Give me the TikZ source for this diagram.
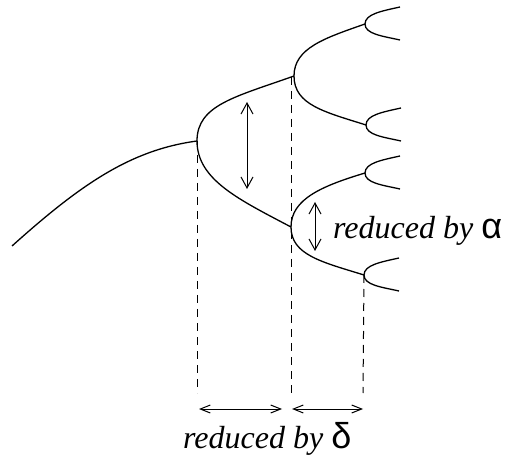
\documentclass[tikz,border=0pt]{standalone}
\usepackage{fontspec}
\setmainfont{Liberation Serif}
\newfontfamily\greekfont{Liberation Sans}
\usetikzlibrary{arrows.meta}

\tikzset{
  branch/.style={line width=1.3pt},
  guide/.style={line width=1pt, dash pattern=on 8pt off 6pt},
  span/.style={line width=1pt, {Straight Barb[length=11pt,width=12pt]}-{Straight Barb[length=11pt,width=12pt]}},
  gap/.style={line width=1pt, {Straight Barb[length=10pt,width=8pt]}-{Straight Barb[length=10pt,width=8pt]}},
  lbl/.style={font=\fontsize{32}{34}\selectfont\itshape, inner sep=0pt}
}

\begin{document}
\begin{tikzpicture}[x=1pt,y=-1pt]
  \useasboundingbox (0,0) rectangle (509,457);

  % points of the tree
  \coordinate (start) at (12,246);
  \coordinate (v1) at (197,141);
  \coordinate (v2) at (294,76);
  \coordinate (v3) at (291,227);
  \coordinate (w1) at (365,24);
  \coordinate (w2) at (366,125);
  \coordinate (w3) at (365,173);
  \coordinate (w4) at (364,275);

  % main stem
  \draw[branch] (start) .. controls (80,185) and (130,150) .. (v1);

  % first fork
  \draw[branch] (v1) .. controls (197,105) and (235,97) .. (v2);
  \draw[branch] (v1) .. controls (197,180) and (240,200) .. (v3);

  % second forks
  \draw[branch] (v2) .. controls (294,48) and (325,38) .. (w1);
  \draw[branch] (v2) .. controls (294,105) and (325,112) .. (w2);
  \draw[branch] (v3) .. controls (291,199) and (322,186) .. (w3);
  \draw[branch] (v3) .. controls (291,255) and (322,262) .. (w4);

  % small forks
  \foreach \w in {w1,w2,w3,w4}{
    \draw[branch] (\w) .. controls +(0,-10) and +(-18,4) .. +(35,-17);
    \draw[branch] (\w) .. controls +(0,10) and +(-18,-4) .. +(35,16);
  }

  % dashed guides
  \coordinate (g1) at (197,393);
  \coordinate (g2) at (291,393);
  \coordinate (g3) at (363,393);
  \draw[guide] (v1) -- (g1);
  \draw[guide] (291,77) -- (g2);
  \draw[guide] (w4) -- (g3);

  % widths
  \coordinate (a1) at (247,102);
  \coordinate (a2) at (247,189);
  \coordinate (b1) at (315,202);
  \coordinate (b2) at (315,251);
  \draw[span] (a1) -- (a2);
  \draw[span] (b1) -- (b2);
  \node[lbl, anchor=base west] (alpha) at (333,239) {reduced by {\greekfont\upshape\fontsize{36}{36}\selectfont α}};

  % periods
  \coordinate (h1) at (199,409);
  \coordinate (h2) at (282,409);
  \coordinate (h3) at (292,409);
  \coordinate (h4) at (363,409);
  \draw[gap] (h1) -- (h2);
  \draw[gap] (h3) -- (h4);
  \node[lbl, anchor=base west] (delta) at (183,448) {reduced by {\greekfont\upshape\fontsize{36}{36}\selectfont δ}};
\end{tikzpicture}
\end{document}
